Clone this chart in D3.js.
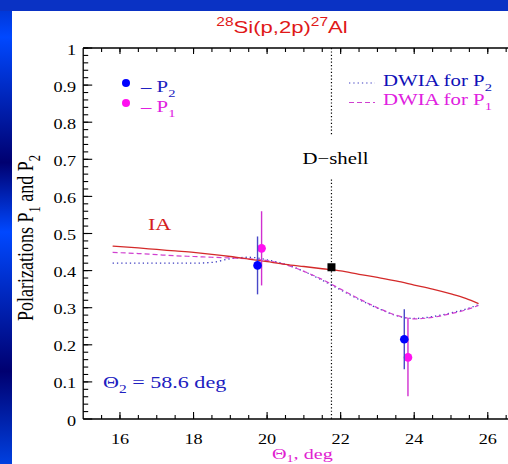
<!DOCTYPE html>
<html>
<head>
<meta charset="utf-8">
<script src="https://cdn.jsdelivr.net/npm/d3@7"></script>
<style>
  body { margin: 0; overflow: hidden; background: #fff; }
  svg { display: block; }
</style>
</head>
<body>
<div id="chart"></div>
<script>
// theory curves on a shared theta grid
var thetaGrid = [15.8, 16.5, 17, 17.5, 18, 18.5, 19, 19.5, 20, 20.5, 21, 21.5, 22, 22.5, 23, 23.5, 24, 24.5, 25, 25.4, 25.75];
var iaP    = [0.466, 0.461, 0.457, 0.453, 0.449, 0.444, 0.438, 0.431, 0.424, 0.417, 0.411, 0.405, 0.399, 0.390, 0.382, 0.372, 0.361, 0.350, 0.337, 0.325, 0.311];
var dwiaP1 = [0.449, 0.446, 0.443, 0.440, 0.438, 0.436, 0.434, 0.432, 0.427, 0.416, 0.398, 0.376, 0.350, 0.324, 0.300, 0.280, 0.270, 0.274, 0.284, 0.294, 0.306];
var dwiaP2 = [0.420, 0.420, 0.420, 0.420, 0.420, 0.422, 0.432, 0.436, 0.429, 0.417, 0.398, 0.374, 0.348, 0.322, 0.299, 0.279, 0.271, 0.276, 0.286, 0.296, 0.308];

// measured points
var p2Theta = [19.74, 23.73];
var p2Val   = [0.414, 0.215];
var p2Err   = [0.078, 0.081];
var p1Theta = [19.85, 23.83];
var p1Val   = [0.460, 0.166];
var p1Err   = [0.100, 0.105];
var dShellTheta = 21.75;
var dShellVal   = 0.409;

var xTicks = [16, 18, 20, 22, 24, 26];
var yTicks = [0, 0.1, 0.2, 0.3, 0.4, 0.5, 0.6, 0.7, 0.8, 0.9, 1];

var W = 508, H = 464;
var SX = 1.3; // the original figure is stretched sideways
var serif = "'Liberation Serif', 'Times New Roman', serif";
var sans = "'Liberation Sans', Arial, sans-serif";

var svg = d3.select("#chart").append("svg")
    .attr("width", W)
    .attr("height", H);

// background
var grad = svg.append("defs").append("linearGradient")
    .attr("id", "bg").attr("x1", 0).attr("y1", 0).attr("x2", 0).attr("y2", 1);
[[0, "#0030c8"], [0.08, "#0048ff"], [0.35, "#000070"], [0.5, "#0048ff"], [0.8, "#000070"], [1, "#0040e0"]]
    .forEach(function (s) { grad.append("stop").attr("offset", s[0]).attr("stop-color", s[1]); });
svg.append("rect").attr("width", W).attr("height", H).attr("fill", "url(#bg)");
svg.append("rect").attr("width", W).attr("height", 11).attr("fill", "#0a32c4");
svg.append("rect").attr("x", 12).attr("y", 11).attr("width", W - 12).attr("height", H - 11).attr("fill", "#fff");

var x = d3.scaleLinear().domain([15, 26.55]).range([83.2, 508]);
var y = d3.scaleLinear().domain([0, 1]).range([419, 48]);

// text with sub/superscripts
function rich(parent, parts, size, family, color, subShift) {
    var t = parent.append("text")
        .style("font-family", family)
        .style("font-size", size + "px")
        .attr("fill", color);
    var shift = 0;
    parts.forEach(function (p) {
        var s = p[1] === "sub" ? size * (subShift || 0.3) : p[1] === "sup" ? -size * 0.42 : 0;
        t.append("tspan")
            .attr("dy", s - shift)
            .style("font-size", p[1] ? (size * 0.7) + "px" : null)
            .text(p[0]);
        shift = s;
    });
    return t;
}
function place(t, px, py, anchor) {
    t.attr("text-anchor", anchor || "start")
        .attr("transform", "translate(" + px + "," + py + ") scale(" + SX + ",1)");
    return t;
}

// D-shell marker line (with a gap for its label)
var dLabel = place(rich(svg, [["D\u2212shell"]], 16, serif, "#000"), x(dShellTheta) + 4, 164, "middle");
var bb = dLabel.node().getBBox();
var gapTop = 164 + bb.y - 14, gapBot = 164 + bb.y + bb.height + 12;
[[y(1), gapTop], [gapBot, y(0)]].forEach(function (seg) {
    svg.append("line")
        .attr("x1", x(dShellTheta)).attr("x2", x(dShellTheta))
        .attr("y1", seg[0]).attr("y2", seg[1])
        .attr("stroke", "#000").attr("stroke-width", 1.2)
        .attr("stroke-dasharray", "1.2,2.2");
});

// curves
var line = d3.line()
    .x(function (d) { return x(d[0]); })
    .y(function (d) { return y(d[1]); })
    .curve(d3.curveMonotoneX);
function pairs(vals) { return thetaGrid.map(function (t, i) { return [t, vals[i]]; }); }

svg.append("path").datum(pairs(dwiaP2))
    .attr("d", line).attr("fill", "none")
    .attr("stroke", "#3c3cc0").attr("stroke-width", 1.3)
    .attr("stroke-dasharray", "1.3,3");
svg.append("path").datum(pairs(dwiaP1))
    .attr("d", line).attr("fill", "none")
    .attr("stroke", "#d040d0").attr("stroke-width", 1.2)
    .attr("stroke-dasharray", "5,3");
svg.append("path").datum(pairs(iaP))
    .attr("d", line).attr("fill", "none")
    .attr("stroke", "#d42a2a").attr("stroke-width", 1.3);

// error bars + points
function points(th, val, err, barColor, dotColor) {
    var g = svg.append("g");
    g.selectAll("line").data(th).enter().append("line")
        .attr("x1", function (d) { return x(d); })
        .attr("x2", function (d) { return x(d); })
        .attr("y1", function (d, i) { return y(val[i] + err[i]); })
        .attr("y2", function (d, i) { return y(val[i] - err[i]); })
        .attr("stroke", barColor).attr("stroke-width", 1.4);
    g.selectAll("circle").data(th).enter().append("circle")
        .attr("cx", function (d) { return x(d); })
        .attr("cy", function (d, i) { return y(val[i]); })
        .attr("r", 4.3)
        .attr("fill", dotColor);
}
points(p1Theta, p1Val, p1Err, "#d030d0", "#ff10f0");
points(p2Theta, p2Val, p2Err, "#4848c8", "#0000ff");

svg.append("rect")
    .attr("x", x(dShellTheta) - 4).attr("y", y(dShellVal) - 4)
    .attr("width", 8).attr("height", 8)
    .attr("fill", "#000");

// frame lines and ticks (drawn by hand from the scales)
var minorX = d3.range(15.5, 26.6, 0.5);
var minorY = d3.range(0.02, 1.001, 0.02);
var axes = svg.append("g").attr("stroke", "#000");

axes.append("line").attr("x1", x(15)).attr("x2", W).attr("y1", y(0)).attr("y2", y(0)).attr("stroke-width", 1.3);
axes.append("line").attr("x1", x(15)).attr("x2", W).attr("y1", y(1)).attr("y2", y(1)).attr("stroke-width", 1.3);
axes.append("line").attr("x1", x(15)).attr("x2", x(15)).attr("y1", y(0)).attr("y2", y(1)).attr("stroke-width", 1.3);

function xTickMarks(vals, y0, len) {
    axes.append("g").selectAll("line").data(vals).enter().append("line")
        .attr("x1", function (d) { return x(d); })
        .attr("x2", function (d) { return x(d); })
        .attr("y1", y0).attr("y2", y0 + len)
        .attr("stroke-width", 1.1);
}
xTickMarks(minorX, y(0), -4);
xTickMarks(xTicks, y(0), -7);
xTickMarks(minorX, y(1), 4);
xTickMarks(xTicks, y(1), 6);

function yTickMarks(vals, len) {
    axes.append("g").selectAll("line").data(vals).enter().append("line")
        .attr("x1", x(15)).attr("x2", x(15) + len)
        .attr("y1", function (d) { return y(d); })
        .attr("y2", function (d) { return y(d); })
        .attr("stroke-width", 1.1);
}
yTickMarks(minorY, 5);
yTickMarks(yTicks, 9);

// tick labels
svg.append("g").selectAll("text").data(xTicks).enter().append("text")
    .attr("transform", function (d) { return "translate(" + x(d) + "," + (y(0) + 25) + ") scale(" + SX + ",1)"; })
    .attr("text-anchor", "middle")
    .style("font-family", serif).style("font-size", "14px")
    .text(function (d) { return d; });
svg.append("g").selectAll("text").data(yTicks).enter().append("text")
    .attr("transform", function (d) { return "translate(" + (x(15) - 7) + "," + (y(d) + 6.5) + ") scale(" + SX + ",1)"; })
    .attr("text-anchor", "end")
    .style("font-family", serif).style("font-size", "14px")
    .text(function (d) { return d; });

// title
place(rich(svg, [["28", "sup"], ["Si(p,2p)"], ["27", "sup"], ["Al"]], 17, sans, "#e01818"), 282, 33, "middle");

// axis titles
place(rich(svg, [["\u0398"], ["1", "sub"], [", deg"]], 15.5, serif, "#e020d0", 0.22), 272, 458.5, "start");
rich(svg, [["Polarizations P"], ["1", "sub"], [" and P"], ["2", "sub"]], 18, serif, "#000")
    .attr("text-anchor", "middle")
    .attr("transform", "translate(33,238) rotate(-90) scale(1," + SX + ")");

// legend: points
svg.append("circle").attr("cx", 126).attr("cy", 83).attr("r", 4).attr("fill", "#0000ff");
svg.append("circle").attr("cx", 126).attr("cy", 103).attr("r", 4).attr("fill", "#ff10f0");
place(rich(svg, [["\u2013 P"], ["2", "sub"]], 16, serif, "#2020c0"), 141, 92);
place(rich(svg, [["\u2013 P"], ["1", "sub"]], 16, serif, "#e020e0"), 141, 112);

// legend: curves
svg.append("line").attr("x1", 349).attr("x2", 375).attr("y1", 83).attr("y2", 83)
    .attr("stroke", "#3c3cc0").attr("stroke-width", 1.2).attr("stroke-dasharray", "1.3,3");
svg.append("line").attr("x1", 349).attr("x2", 375).attr("y1", 102.5).attr("y2", 102.5)
    .attr("stroke", "#d040d0").attr("stroke-width", 1.2).attr("stroke-dasharray", "5,3");
place(rich(svg, [["DWIA for P"], ["2", "sub"]], 16, serif, "#1010b8"), 383, 86);
place(rich(svg, [["DWIA for P"], ["1", "sub"]], 16, serif, "#e020e0"), 383, 105);

// annotations
place(rich(svg, [["IA"]], 17, serif, "#d42020"), 148, 230);
place(rich(svg, [["\u0398"], ["2", "sub"], [" = 58.6 deg"]], 17, serif, "#2020c0"), 103, 388);
</script>
</body>
</html>
